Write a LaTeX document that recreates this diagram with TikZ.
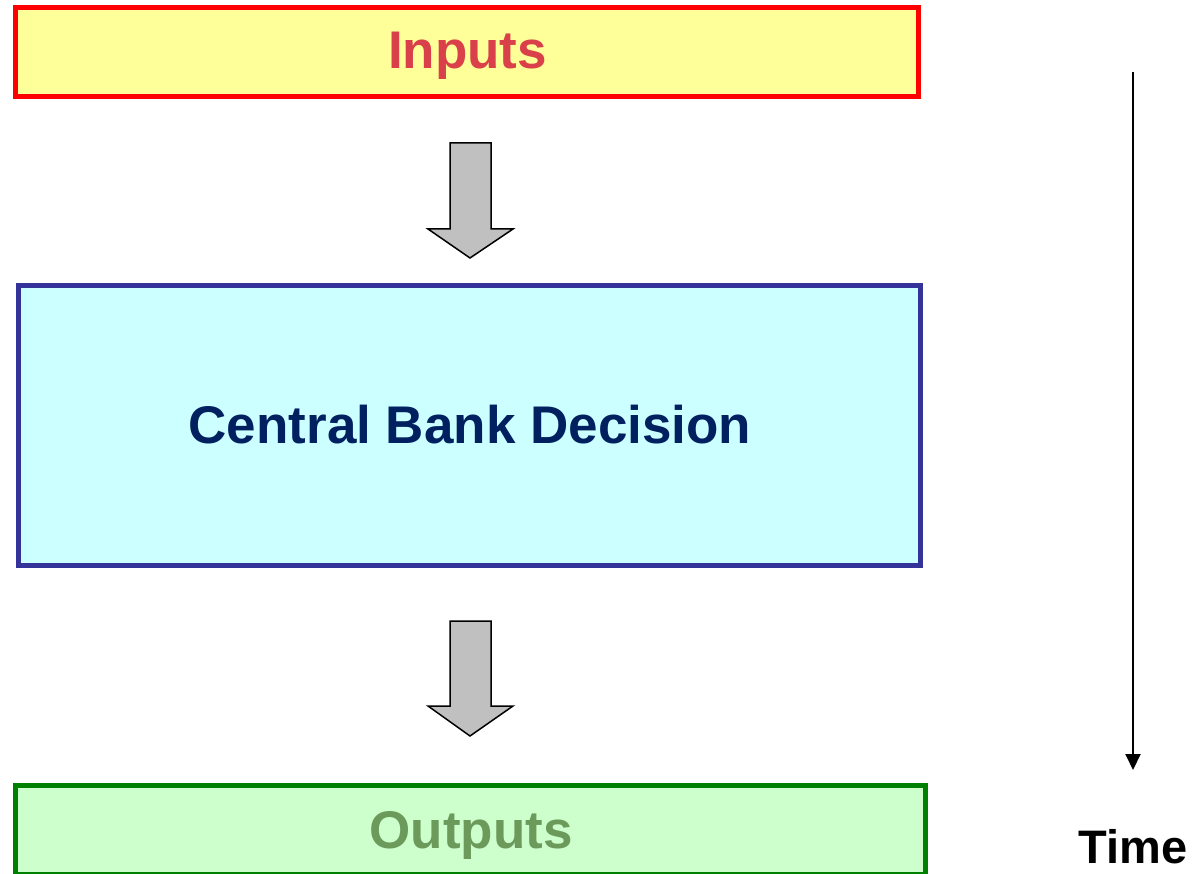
\documentclass[tikz,border=0pt]{standalone}
\usepackage{fontspec}
\setmainfont{Liberation Sans}
\usetikzlibrary{arrows.meta}

\definecolor{inFill}{HTML}{FFFF99}
\definecolor{inLine}{HTML}{FF0000}
\definecolor{inText}{HTML}{DA4049}
\definecolor{cbFill}{HTML}{CCFFFF}
\definecolor{cbLine}{HTML}{333399}
\definecolor{cbText}{HTML}{002060}
\definecolor{outFill}{HTML}{CCFFCC}
\definecolor{outLine}{HTML}{008000}
\definecolor{outText}{HTML}{6B9A5B}
\definecolor{flowGray}{HTML}{C0C0C0}

\tikzset{
  stagebox/.style={draw, rectangle, line width=5pt, inner sep=0pt},
  stagetext/.style={font=\fontsize{53}{60}\selectfont\bfseries, anchor=base},
  flowarrow/.style={draw=black, fill=flowGray, line width=1.5pt, line join=miter},
}

\begin{document}
\begin{tikzpicture}[x=1pt, y=-1pt]
  \useasboundingbox (0,0) rectangle (1195,874);

  % stage boxes
  \node[stagebox, draw=inLine, fill=inFill, minimum width=903pt, minimum height=89pt]
    (inputs) at (467,52) {};
  \node[stagebox, draw=cbLine, fill=cbFill, minimum width=902pt, minimum height=280pt]
    (decision) at (469.5,425.5) {};
  \node[stagebox, draw=outLine, fill=outFill, minimum width=910pt, minimum height=88.5pt]
    (outputs) at (470.5,829.75) {};

  % stage labels
  \node[stagetext, text=inText] (inputsLabel) at (467.5,69) {Inputs};
  \node[stagetext, text=cbText] (decisionLabel) at (470,444) {Central Bank Decision};
  \node[stagetext, text=outText] (outputsLabel) at (471,848.5) {Outputs};

  % block arrows between the stages
  \foreach \top/\neck/\tip in {143/229/258, 621/706/736}{
    \draw[flowarrow] (450,\top) -- (491,\top) -- (491,\neck) -- (513,\neck)
      -- (470,\tip) -- (428,\neck) -- (450,\neck) -- cycle;
  }

  % time axis
  \coordinate (timeStart) at (1133,72);
  \coordinate (timeEnd) at (1133,770);
  \draw[line width=2pt, -{Triangle[width=15pt,length=16pt]}] (timeStart) -- (timeEnd);
  \node[font=\fontsize{47}{54}\selectfont\bfseries, anchor=base] (timeLabel) at (1133,863) {Time};
\end{tikzpicture}
\end{document}
